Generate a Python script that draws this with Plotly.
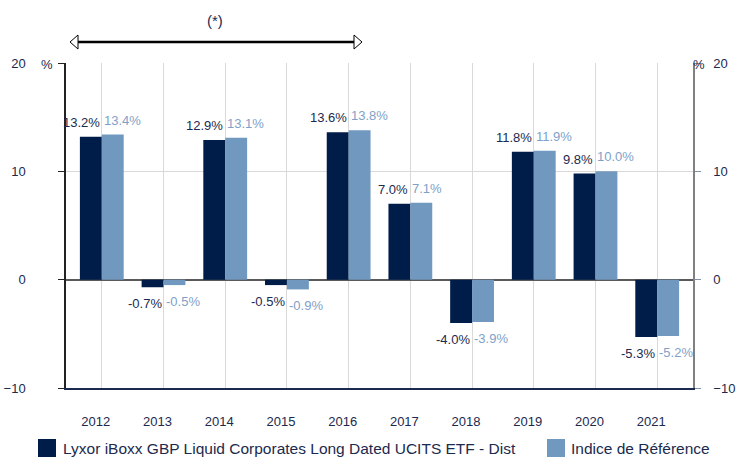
import plotly.graph_objects as go

years = ["2012", "2013", "2014", "2015", "2016", "2017", "2018", "2019", "2020", "2021"]
fund = [13.2, -0.7, 12.9, -0.5, 13.6, 7.0, -4.0, 11.8, 9.8, -5.3]
index_ref = [13.4, -0.5, 13.1, -0.9, 13.8, 7.1, -3.9, 11.9, 10.0, -5.2]
fund_name = "Lyxor iBoxx GBP Liquid Corporates Long Dated UCITS ETF - Dist"
index_name = "Indice de Référence"

DARK = "#001C48"
LIGHT = "#7199BF"
DARK_TXT = "#1B2A4E"
LIGHT_TXT = "#7FA1C8"
FONT = "Liberation Sans, Arial, sans-serif"

W, H = 736, 457
ML, MR, MT, MB = 66, 43, 63, 69
PW, PH = W - ML - MR, H - MT - MB


def px(x):
    return (x - ML) / PW


def py(y):
    return (H - MB - y) / PH


fig = go.Figure()
fig.add_trace(go.Bar(x=years, y=fund, name=fund_name, marker=dict(color=DARK, line=dict(width=0))))
fig.add_trace(go.Bar(x=years, y=index_ref, name=index_name, marker=dict(color=LIGHT, line=dict(width=0))))

annotations = []
for i, v in enumerate(fund):
    annotations.append(dict(x=i, y=v, xref="x", yref="y", text=f"{v:.1f}%", showarrow=False,
                            xanchor="right", yanchor="bottom" if v >= 0 else "top",
                            yshift=5 if v >= 0 else -7,
                            font=dict(family=FONT, size=13, color=DARK_TXT)))
for i, v in enumerate(index_ref):
    annotations.append(dict(x=i, y=v, xref="x", yref="y", text=f"{v:.1f}%", showarrow=False,
                            xanchor="left", yanchor="bottom" if v >= 0 else "top",
                            yshift=5 if v >= 0 else -7,
                            font=dict(family=FONT, size=13, color=LIGHT_TXT)))

annotations += [
    dict(x=px(215), y=py(21), xref="paper", yref="paper", text="(*)", showarrow=False,
         xanchor="center", yanchor="middle", font=dict(family=FONT, size=15, color=DARK_TXT)),
    dict(x=px(47), y=py(64), xref="paper", yref="paper", text="%", showarrow=False,
         xanchor="center", yanchor="middle", font=dict(family=FONT, size=13, color=DARK_TXT)),
    dict(x=px(699), y=py(64), xref="paper", yref="paper", text="%", showarrow=False,
         xanchor="center", yanchor="middle", font=dict(family=FONT, size=13, color=DARK_TXT)),
    # legend texts
    dict(x=px(61), y=py(448), xref="paper", yref="paper", text=fund_name, showarrow=False,
         xanchor="left", yanchor="middle", font=dict(family=FONT, size=15.5, color=DARK_TXT)),
    dict(x=px(569), y=py(448), xref="paper", yref="paper", text=index_name, showarrow=False,
         xanchor="left", yanchor="middle", font=dict(family=FONT, size=15.5, color=DARK_TXT)),
]

ay = py(42)
shapes = [
    dict(type="line", xref="paper", yref="paper", x0=px(77), x1=px(355), y0=ay, y1=ay,
         line=dict(color="black", width=2.5)),
    dict(type="path", xref="paper", yref="paper",
         path=f"M {px(70)} {ay} L {px(78)} {py(35)} L {px(78)} {py(49)} Z",
         fillcolor="white", line=dict(color="black", width=1)),
    dict(type="path", xref="paper", yref="paper",
         path=f"M {px(362)} {ay} L {px(354)} {py(35)} L {px(354)} {py(49)} Z",
         fillcolor="white", line=dict(color="black", width=1)),
    # legend swatches
    dict(type="rect", xref="paper", yref="paper", x0=px(38), x1=px(56), y0=py(439), y1=py(457),
         fillcolor=DARK, line=dict(width=0)),
    dict(type="rect", xref="paper", yref="paper", x0=px(547), x1=px(565), y0=py(439), y1=py(457),
         fillcolor=LIGHT, line=dict(width=0)),
]

fig.update_layout(
    width=W, height=H,
    margin=dict(l=ML, r=MR, t=MT, b=MB, pad=0, autoexpand=False),
    paper_bgcolor="white", plot_bgcolor="white",
    barmode="group", bargap=0.29, bargroupgap=0,
    font=dict(family=FONT, size=13, color=DARK_TXT),
    showlegend=False,
    xaxis=dict(type="category", range=[-0.58, 9.58], showgrid=True, gridcolor="#D9D9D9",
               gridwidth=1, showline=True, linecolor="#1B2A4E", linewidth=1.5, automargin=False,
               ticks="", ticklabelstandoff=21, ticklabelshift=-6,
               tickfont=dict(family=FONT, size=13, color=DARK_TXT)),
    yaxis=dict(range=[-10, 20], dtick=10, showgrid=True, gridcolor="#D9D9D9", gridwidth=1,
               zeroline=True, zerolinecolor="#5A5A5A", zerolinewidth=1.5, automargin=False,
               showline=True, linecolor="#222222", linewidth=1.5,
               ticks="outside", ticklen=6, tickcolor="#222222", ticklabelstandoff=30,
               tickfont=dict(family=FONT, size=13, color=DARK_TXT)),
    yaxis2=dict(range=[-10, 20], dtick=10, overlaying="y", side="right", showgrid=False,
                zeroline=False, showline=True, linecolor="#808080", linewidth=1.5, automargin=False,
                ticks="outside", ticklen=6, tickcolor="#7F93AE", ticklabelstandoff=10,
                tickfont=dict(family=FONT, size=13, color=DARK_TXT)),
    annotations=annotations,
    shapes=shapes,
)
fig.add_trace(go.Scatter(x=[years[0]], y=[0], yaxis="y2", mode="markers", marker=dict(opacity=0),
                         showlegend=False, hoverinfo="skip"))

fig.write_html("out.html", config={"displayModeBar": False},
               post_script="document.body.style.margin='0';document.body.style.overflow='hidden';")
